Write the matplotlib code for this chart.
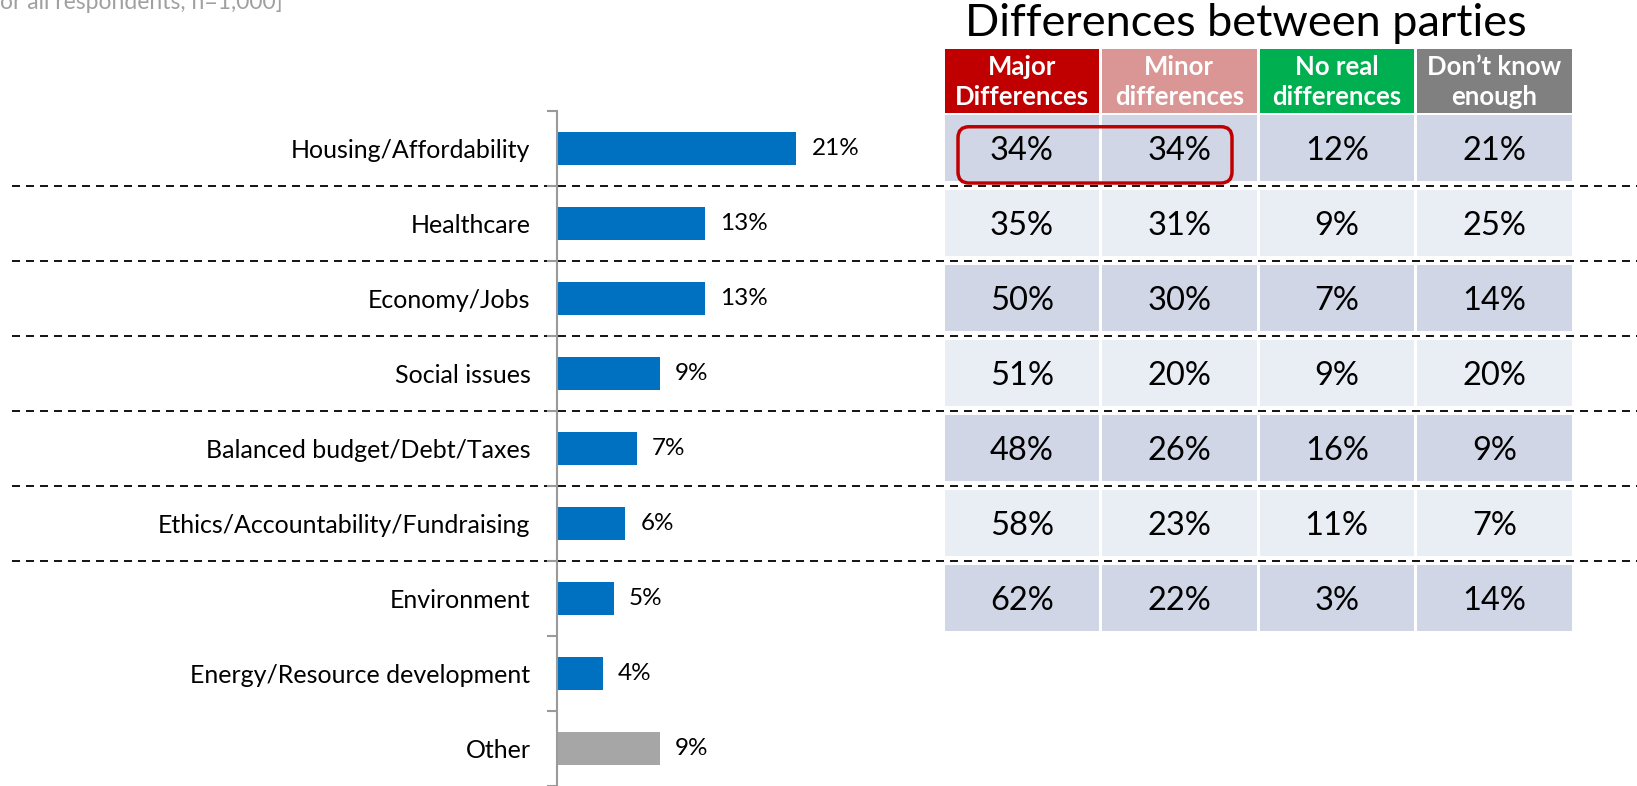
import matplotlib.pyplot as plt
from matplotlib.patches import Rectangle, FancyBboxPatch

plt.rcParams['font.family'] = ['Lato', 'DejaVu Sans']

# ---------------------------------------------------------------
# data
# ---------------------------------------------------------------
categories = ['Housing/Affordability', 'Healthcare', 'Economy/Jobs',
              'Social issues', 'Balanced budget/Debt/Taxes',
              'Ethics/Accountability/Fundraising', 'Environment',
              'Energy/Resource development', 'Other']
shares = [21, 13, 13, 9, 7, 6, 5, 4, 9]

col_labels = ['Major\nDifferences', 'Minor\ndifferences',
              'No real\ndifferences', 'Don\u2019t know\nenough']
major = [34, 35, 50, 51, 48, 58, 62]
minor = [34, 31, 30, 20, 26, 23, 22]
no_real = [12, 9, 7, 9, 16, 11, 3]
dont_know = [21, 25, 14, 20, 9, 7, 14]

BLUE = '#0070C0'
GREY_BAR = '#A6A6A6'
HEAD_COLORS = ['#C00000', '#DA9694', '#00B050', '#808080']
ROW_DARK = '#D0D6E5'
ROW_LIGHT = '#E9EDF4'

W, H = 1637, 786
PX_PER_PCT = 11.4
ROW_PX = 75.0

fig = plt.figure(figsize=(W / 100, H / 100), dpi=100)

# ---------------------------------------------------------------
# bar chart
# ---------------------------------------------------------------
ax_left = 557
ax_top = 786 - 9 * ROW_PX
ax = fig.add_axes([ax_left / W, 0, (W - ax_left) / W, (H - ax_top) / H])
n = len(categories)
colors = [BLUE] * (n - 1) + [GREY_BAR]
ax.barh(range(n), shares, height=0.45, color=colors)
ax.set_ylim(n - 0.5, -0.5)
ax.set_xlim(0, (W - ax_left) / PX_PER_PCT)

for i, v in enumerate(shares):
    ax.text(v + 15 / PX_PER_PCT, i, f'{v}%', va='center', ha='left',
            fontsize=17.5, color='black')

for s in ['top', 'right', 'bottom']:
    ax.spines[s].set_visible(False)
ax.spines['left'].set_color('#9A9A9A')
ax.spines['left'].set_linewidth(1.5)
ax.set_xticks([])
ax.set_yticks(range(n))
ax.set_yticklabels(categories, fontsize=18)
ax.tick_params(axis='y', which='major', length=0, pad=19)
ax.set_yticks([i - 0.5 for i in range(n + 1)], minor=True)
ax.tick_params(axis='y', which='minor', length=7, width=1.5,
               color='#9A9A9A', direction='out')

# dashed separators across the whole slide
lw = 1.3
for b in [0.5, 1.5, 2.5, 3.5, 4.5, 5.5]:
    ax.axhline(b, xmin=(12 - ax_left) / (W - ax_left), xmax=1,
               clip_on=False, color='black', linewidth=lw,
               dashes=(8 * 0.72 / lw, 6 * 0.72 / lw), zorder=0)

# ---------------------------------------------------------------
# table of party differences
# ---------------------------------------------------------------
t_left, t_right, t_top = 943, 1573, 49
ax_t = fig.add_axes([t_left / W, 0, (t_right - t_left) / W, (H - t_top) / H])
ax_t.set_xlim(0, 4)
top_row = -0.5 - (ax_top - t_top) / ROW_PX
ax_t.set_ylim(n - 0.5, top_row)
ax_t.axis('off')

col_px = (t_right - t_left) / 4
g = 1.5 / col_px
head_bottom = -0.5 + (113 - ax_top) / ROW_PX
for j, (lab, c) in enumerate(zip(col_labels, HEAD_COLORS)):
    ax_t.add_patch(Rectangle((j + g, top_row), 1 - 2 * g,
                             head_bottom - top_row, color=c, lw=0))
    ax_t.text(j + 0.5, (top_row + head_bottom) / 2 + 0.01, lab, ha='center',
              va='center', color='white', fontsize=18.5, fontweight='bold',
              linespacing=1.3)

columns = [major, minor, no_real, dont_know]
for i in range(len(major)):
    fc = ROW_DARK if i % 2 == 0 else ROW_LIGHT
    for j, col in enumerate(columns):
        ax_t.add_patch(Rectangle((j + g, i - 0.44), 1 - 2 * g, 0.88,
                                 color=fc, lw=0))
        ax_t.text(j + 0.5, i + 0.03, f'{col[i]}%', ha='center',
                  va='center', fontsize=23.5, color='black')

# highlight box around the first two cells
x0, x1 = (958 - t_left) / col_px, (1232 - t_left) / col_px
y0, y1 = -0.29, 0.46
ax_t.add_patch(FancyBboxPatch((x0, y0), x1 - x0, y1 - y0,
                              boxstyle='round,pad=0,rounding_size=0.07',
                              mutation_aspect=col_px / ROW_PX,
                              fill=False, edgecolor='#C00000', lw=2.5))

fig.text(1246 / W, 1 - 24 / H, 'Differences between parties',
         ha='center', va='center', fontsize=32.5, color='black')

fig.text(283 / W, 1 - 9 / H, 'for all respondents, n=1,000]',
         ha='right', va='baseline', fontsize=16.5, color='#A0A0A0')

fig.savefig('out.png', dpi=100)
